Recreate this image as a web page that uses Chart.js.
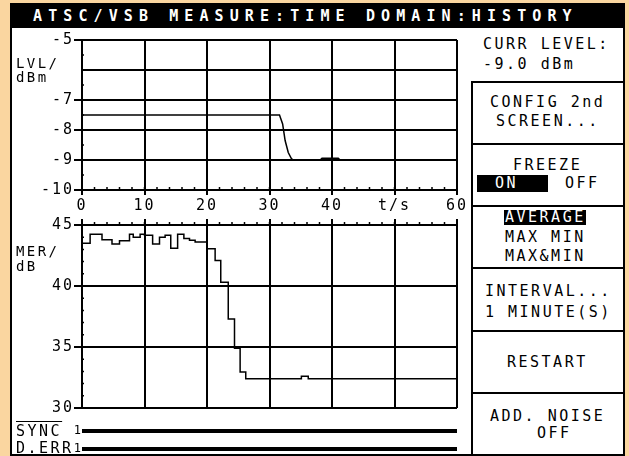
<!DOCTYPE html>
<html>
<head>
<meta charset="utf-8">
<script src="https://cdn.jsdelivr.net/npm/chart.js@4.4.0/dist/chart.umd.min.js"></script>
<style>
  html, body { margin: 0; padding: 0; }
  body { width: 629px; height: 456px; background: #fad6a0; position: relative; overflow: hidden;
         font-family: "DejaVu Sans Mono", monospace; }
  #screen { position: absolute; left: 10px; top: 3px; width: 611px; height: 449px; border: 2px solid #000; background: #fff; }
  #title { position: absolute; left: 10px; top: 3px; width: 615px; height: 25px; background: #000; }
  canvas { position: absolute; left: 0; }
  .t { position: absolute; font-size: 15px; line-height: 15px; letter-spacing: 2.5px; white-space: pre; color: #000; }
  .s { font-size: 14px; line-height: 14px; letter-spacing: 2.4px; }
  .inv { color: #fff; }
  .bar { position: absolute; background: #000; }
  .hl { position: absolute; left: 471px; width: 154px; height: 2px; background: #000; }
</style>
</head>
<body>
<div id="screen"></div>
<div id="title"></div>
<div class="t inv" style="left:33px;top:9.3px;font-weight:bold;letter-spacing:6.1px">ATSC/VSB MEASURE:TIME DOMAIN:HISTORY</div>

<canvas id="lvlChart" width="470" height="190" style="top:28px"></canvas>
<canvas id="merChart" width="470" height="205" style="top:212px"></canvas>
<canvas id="syncChart" width="470" height="18" style="top:422px"></canvas>
<canvas id="errChart" width="470" height="18" style="top:440px"></canvas>

<!-- axis names on the left -->
<div class="t s" style="left:16px;top:56px">LVL/</div>
<div class="t s" style="left:16px;top:70px">dBm</div>
<div class="t s" style="left:16px;top:244px">MER/</div>
<div class="t s" style="left:16px;top:259px">dB</div>
<div class="t" style="left:16px;top:424px;text-decoration:overline">SYNC</div>
<div class="t" style="left:16px;top:440.5px">D.ERR</div>

<!-- right panel -->
<div class="bar" style="left:471px;top:81px;width:2px;height:375px"></div>
<div class="hl" style="top:81px"></div>
<div class="hl" style="top:143px"></div>
<div class="hl" style="top:205px"></div>
<div class="hl" style="top:267px"></div>
<div class="hl" style="top:330px"></div>
<div class="hl" style="top:392px"></div>

<div class="t" style="left:483px;top:37.3px">CURR LEVEL:</div>
<div class="t" style="left:483px;top:57.3px">-9.0 dBm</div>
<div class="t" style="left:490px;top:95.3px">CONFIG 2nd</div>
<div class="t" style="left:496px;top:114.3px">SCREEN...</div>
<div class="t" style="left:513px;top:157.8px">FREEZE</div>
<div class="bar" style="left:477px;top:175px;width:71px;height:17px"></div>
<div class="t inv" style="left:495px;top:176.3px">ON</div>
<div class="t" style="left:565px;top:176.3px">OFF</div>
<div class="bar" style="left:504px;top:210px;width:82px;height:15px"></div>
<div class="t inv" style="left:505px;top:210.3px">AVERAGE</div>
<div class="t" style="left:505px;top:230.3px">MAX MIN</div>
<div class="t" style="left:505px;top:248.8px">MAX&amp;MIN</div>
<div class="t" style="left:485px;top:283.8px">INTERVAL...</div>
<div class="t" style="left:485px;top:305.3px">1 MINUTE(S)</div>
<div class="t" style="left:507px;top:355.3px">RESTART</div>
<div class="t" style="left:490px;top:408.8px">ADD. NOISE</div>
<div class="t" style="left:537px;top:426.3px">OFF</div>

<script>
// level history (dBm) over time (s)
const lvlTime = [0, 31.6, 32.1, 32.5, 33.0, 33.5, 33.8, 38.1, 38.4, 41.0, 41.3, 60];
const lvlValues = [-7.5, -7.5, -7.8, -8.35, -8.75, -8.95, -9.0, -9.0, -8.94, -8.94, -9.0, -9.0];

// MER history (dB), each value holds from its time to the next one
const merTime = [0, 1.3, 3.2, 4.8, 6.0, 7.6, 8.2, 9.3, 10, 11.3, 12.4, 13.3, 14.2, 15.3, 16.3,
                 17.2, 18.1, 20.0, 21.3, 22.2, 23.4, 24.4, 25.3, 26.2, 35.1, 36.2, 60];
const merValues = [43.5, 44.25, 43.8, 43.45, 43.7, 44.25, 44.0, 44.25, 44.15, 43.45, 44.0, 44.15, 43.1, 44.25, 43.9,
                   43.75, 43.6, 43.05, 42.1, 40.3, 37.3, 34.9, 32.95, 32.4, 32.6, 32.4, 32.4];

// status lines
const statusTime = [0, 60];
const syncValues = [1, 1];
const errValues = [1, 1];

const timeTicks = [0, 10, 20, 30, 40, 50, 60];
const timeLabels = ["0", "10", "20", "30", "40", "t/s", "60"];

const tickFont = { family: "DejaVu Sans Mono", size: 15 };
const black = "#000";

const points = (xs, ys) => xs.map((t, i) => ({ x: t, y: ys[i] }));

// small dots on the axes
const minorTicks = {
  id: "minorTicks",
  afterDraw(chart, args, opts) {
    const { ctx, chartArea } = chart;
    const x = chart.scales.x, y = chart.scales.y;
    ctx.save();
    ctx.strokeStyle = black;
    ctx.lineWidth = 1.5;
    ctx.beginPath();
    for (let v = x.min; v <= x.max; v += opts.xStep) {
      const px = x.getPixelForValue(v);
      const base = opts.xSide === "top" ? chartArea.top : chartArea.bottom;
      ctx.moveTo(px, base);
      ctx.lineTo(px, base - 3);
    }
    for (let v = y.min; v <= y.max; v += opts.yStep) {
      const py = y.getPixelForValue(v);
      ctx.moveTo(chartArea.left - 1, py);
      ctx.lineTo(chartArea.left + 2, py);
    }
    ctx.stroke();
    ctx.restore();
  }
};

const spacing = {
  id: "spacing",
  beforeDraw(chart) { chart.ctx.letterSpacing = "2px"; }
};

new Chart(document.getElementById("lvlChart"), {
  type: "line",
  data: {
    datasets: [{ data: points(lvlTime, lvlValues), borderColor: black, borderWidth: 1.5, pointRadius: 0 }]
  },
  options: {
    responsive: false,
    animation: false,
    layout: { padding: { left: 0, right: 13, top: 12, bottom: 0 } },
    scales: {
      x: {
        type: "linear", min: 0, max: 60,
        afterBuildTicks: (s) => { s.ticks = timeTicks.map((v) => ({ value: v })); },
        ticks: { callback: (v) => timeLabels[timeTicks.indexOf(v)], font: tickFont, color: black, maxRotation: 0, autoSkip: false, padding: 2 },
        grid: { color: black, lineWidth: 2, tickLength: 5 },
        border: { color: black, width: 2 },
        afterFit: (s) => { s.height = 28; }
      },
      y: {
        min: -10, max: -5,
        ticks: { stepSize: 1, autoSkip: false, callback: (v) => (v === -6 ? "" : v), font: tickFont, color: black, padding: 0 },
        grid: { color: black, lineWidth: 2, tickLength: 8,
                tickColor: (c) => (c.tick && c.tick.value === -6 ? "rgba(0,0,0,0)" : black) },
        border: { color: black, width: 2 },
        afterFit: (s) => { s.width = 82; }
      }
    },
    plugins: { legend: { display: false }, tooltip: { enabled: false }, minorTicks: { xStep: 2, yStep: 0.5, xSide: "bottom" } }
  },
  plugins: [minorTicks, spacing]
});

new Chart(document.getElementById("merChart"), {
  type: "line",
  data: {
    datasets: [{ data: points(merTime, merValues), stepped: true, borderColor: black, borderWidth: 1.5, pointRadius: 0 }]
  },
  options: {
    responsive: false,
    animation: false,
    layout: { padding: { left: 0, right: 13, top: 0, bottom: 4.5 } },
    scales: {
      x: {
        type: "linear", position: "top", min: 0, max: 60,
        ticks: { stepSize: 10, display: false },
        grid: { color: black, lineWidth: 2, tickLength: 6 },
        border: { color: black, width: 2 },
        afterFit: (s) => { s.height = 13; }
      },
      y: {
        min: 30, max: 45,
        ticks: { stepSize: 5, autoSkip: false, font: tickFont, color: black, padding: 0 },
        grid: { color: black, lineWidth: 2, tickLength: 8 },
        border: { color: black, width: 2 },
        afterFit: (s) => { s.width = 82; }
      }
    },
    plugins: { legend: { display: false }, tooltip: { enabled: false }, minorTicks: { xStep: 2, yStep: 1, xSide: "top" } }
  },
  plugins: [minorTicks, spacing]
});

function statusChart(id, values) {
  new Chart(document.getElementById(id), {
    type: "line",
    data: { datasets: [{ data: points(statusTime, values), borderColor: black, borderWidth: 4, pointRadius: 0, clip: false }] },
    options: {
      responsive: false,
      animation: false,
      layout: { padding: { left: 0, right: 13, top: 0, bottom: 0 } },
      scales: {
        x: { type: "linear", min: 0, max: 60, display: false },
        y: {
          min: 0, max: 2,
          ticks: { stepSize: 1, autoSkip: false, callback: (v) => (v === 1 ? "1" : ""),
                   font: { family: "DejaVu Sans Mono", size: 12, lineHeight: 1 }, color: black, padding: 1 },
          grid: { display: false, drawTicks: false },
          border: { display: false },
          afterFit: (s) => { s.width = 82; }
        }
      },
      plugins: { legend: { display: false }, tooltip: { enabled: false } }
    }
  });
}
statusChart("syncChart", syncValues);
statusChart("errChart", errValues);
</script>
</body>
</html>
